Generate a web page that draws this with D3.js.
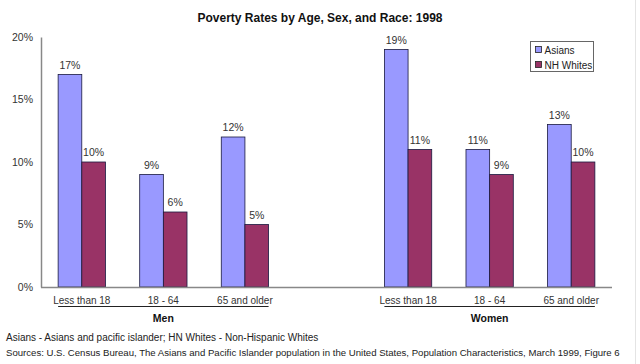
<!DOCTYPE html>
<html>
<head>
<meta charset="utf-8">
<script src="https://cdn.jsdelivr.net/npm/d3@7"></script>
<style>
  body { margin: 0; background: #fff; }
  svg { display: block; font-family: "Liberation Sans", Arial, sans-serif; }
</style>
</head>
<body>
<div id="chart"></div>
<script>
// slots along the x axis; the empty slot makes the gap between Men and Women
const slots = ["m0", "m1", "m2", "gap", "w0", "w1", "w2"];
const ageLabels = ["Less than 18", "18 - 64", "65 and older", "", "Less than 18", "18 - 64", "65 and older"];
const sexGroups = [
  { name: "Men", slots: ["m0", "m1", "m2"] },
  { name: "Women", slots: ["w0", "w1", "w2"] }
];
const seriesNames = ["Asians", "NH Whites"];
const seriesColors = ["#9999ff", "#993366"];
const asians = [17, 9, 12, null, 19, 11, 13];
const nhWhites = [10, 6, 5, null, 11, 9, 10];
const yTicks = [0, 5, 10, 15, 20];

const width = 640, height = 364;
const margin = { top: 37, left: 41, right: 28, bottom: 77 };
const innerW = width - margin.left - margin.right;
const innerH = height - margin.top - margin.bottom;

const svg = d3.select("#chart").append("svg")
  .attr("width", width)
  .attr("height", height);

// faint frame line on the right edge
svg.append("line")
  .attr("x1", 635.5).attr("x2", 635.5)
  .attr("y1", 0).attr("y2", height)
  .attr("stroke", "#e4e4e4");

svg.append("text")
  .attr("x", 320)
  .attr("y", 22)
  .attr("text-anchor", "middle")
  .attr("font-size", 12)
  .attr("font-weight", "bold")
  .attr("fill", "#111")
  .text("Poverty Rates by Age, Sex, and Race: 1998");

const g = svg.append("g")
  .attr("transform", `translate(${margin.left},${margin.top})`);

const xScale = d3.scaleBand().domain(slots).range([0, innerW]).padding(0);
const xSub = d3.scaleBand().domain(seriesNames)
  .range([xScale.bandwidth() * 0.21, xScale.bandwidth() * 0.79]);
const yScale = d3.scaleLinear().domain([0, 20]).range([innerH, 0]);

// y axis
const yAxis = g.append("g")
  .call(d3.axisLeft(yScale).tickValues(yTicks).tickSize(0).tickPadding(8)
    .tickFormat((d) => d + "%"));
yAxis.select(".domain").attr("stroke", "#888").attr("stroke-width", 1.5);
yAxis.selectAll("text").attr("font-size", 10.5).attr("fill", "#333")
  .attr("font-family", "Liberation Sans, Arial, sans-serif");

const rows = slots.map((s, i) => ({ slot: s, values: [asians[i], nhWhites[i]] }));

const groups = g.selectAll(".grp")
  .data(rows.filter((d) => d.values[0] != null))
  .enter()
  .append("g")
  .attr("class", "grp")
  .attr("transform", (d) => `translate(${xScale(d.slot)},0)`);

groups.selectAll(".bar")
  .data((d) => d.values.map((v, i) => ({ name: seriesNames[i], value: v, i: i })))
  .enter()
  .append("rect")
  .attr("class", "bar")
  .attr("x", (d) => xSub(d.name))
  .attr("y", (d) => yScale(d.value))
  .attr("width", xSub.bandwidth())
  .attr("height", (d) => innerH - yScale(d.value))
  .attr("fill", (d) => seriesColors[d.i])
  .attr("stroke", "#1a1a40")
  .attr("stroke-width", 0.8);

groups.selectAll(".lbl")
  .data((d) => d.values.map((v, i) => ({ name: seriesNames[i], value: v })))
  .enter()
  .append("text")
  .attr("class", "lbl")
  .attr("x", (d) => xSub(d.name) + xSub.bandwidth() / 2)
  .attr("y", (d) => yScale(d.value) - 6)
  .attr("text-anchor", "middle")
  .attr("font-size", 10.5)
  .attr("fill", "#333")
  .text((d) => d.value + "%");

// x axis line
g.append("line")
  .attr("x1", 0).attr("x2", innerW)
  .attr("y1", innerH + 0.5).attr("y2", innerH + 0.5)
  .attr("stroke", "#888")
  .attr("stroke-width", 1.5);

// age labels
g.selectAll(".age")
  .data(slots)
  .enter()
  .append("text")
  .attr("class", "age")
  .attr("x", (d) => xScale(d) + xScale.bandwidth() / 2)
  .attr("y", innerH + 17)
  .attr("text-anchor", "middle")
  .attr("font-size", 10)
  .attr("fill", "#333")
  .text((d, i) => ageLabels[i]);

// sex group labels with line above
sexGroups.forEach((sg) => {
  const x0 = xScale(sg.slots[0]) + xSub(seriesNames[0]);
  const last = sg.slots[sg.slots.length - 1];
  const x1 = xScale(last) + xSub(seriesNames[1]) + xSub.bandwidth();
  g.append("line")
    .attr("x1", x0).attr("x2", x1)
    .attr("y1", innerH + 19.5).attr("y2", innerH + 19.5)
    .attr("stroke", "#222");
  g.append("text")
    .attr("x", (x0 + x1) / 2)
    .attr("y", innerH + 35)
    .attr("text-anchor", "middle")
    .attr("font-size", 10.5)
    .attr("font-weight", "bold")
    .attr("fill", "#111")
    .text(sg.name);
});

// legend
const legend = svg.append("g").attr("transform", "translate(530.5,41.5)");
legend.append("rect")
  .attr("width", 63).attr("height", 30)
  .attr("fill", "#fff")
  .attr("stroke", "#666");
seriesNames.forEach((name, i) => {
  legend.append("rect")
    .attr("x", 5).attr("y", 5 + i * 15)
    .attr("width", 6).attr("height", 6)
    .attr("fill", seriesColors[i])
    .attr("stroke", "#222")
    .attr("stroke-width", 0.8);
  legend.append("text")
    .attr("x", 14).attr("y", 12 + i * 15)
    .attr("font-size", 10)
    .attr("fill", "#222")
    .text(name);
});

// footnotes
svg.append("text")
  .attr("x", 6).attr("y", 341)
  .attr("font-size", 10)
  .attr("fill", "#222")
  .text("Asians - Asians and pacific islander; HN Whites - Non-Hispanic Whites");
svg.append("text")
  .attr("x", 6).attr("y", 356)
  .attr("font-size", 9.6)
  .attr("fill", "#222")
  .text("Sources: U.S. Census Bureau, The Asians and Pacific Islander population in the United States, Population Characteristics, March 1999, Figure 6");
</script>
</body>
</html>
